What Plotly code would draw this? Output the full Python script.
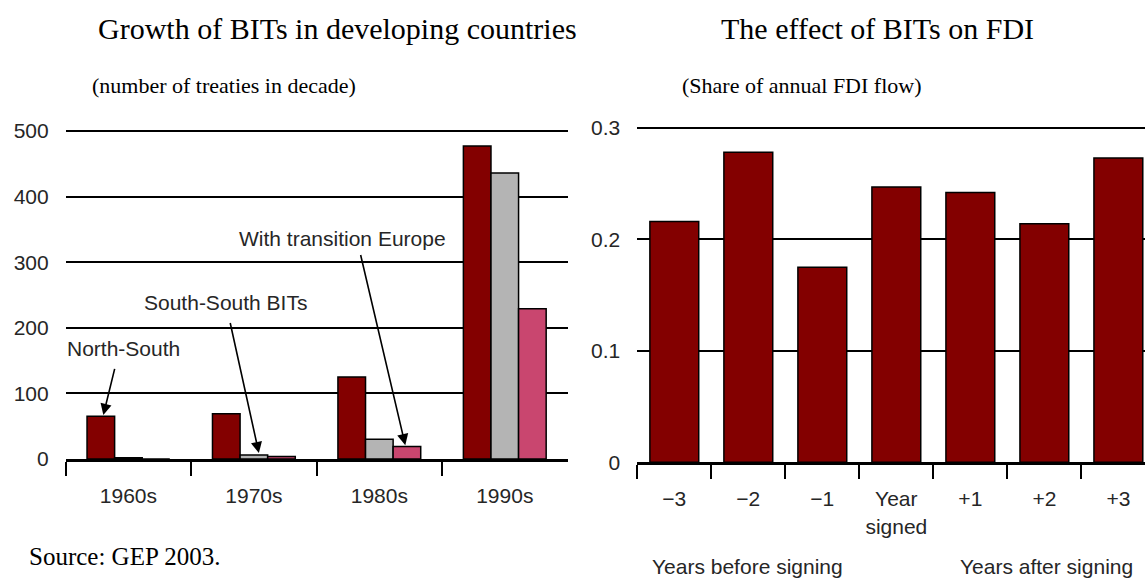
import plotly.graph_objects as go

# ---- Data: left panel (number of treaties in decade)
decades = ["1960s", "1970s", "1980s", "1990s"]
north_south = [65, 69, 125, 477]
south_south = [2, 6, 30, 436]
transition_europe = [0, 4, 19, 229]
left_yticks = [0, 100, 200, 300, 400, 500]

# ---- Data: right panel (share of annual FDI flow)
years = ["\u22123", "\u22122", "\u22121", "Year<br>signed", "+1", "+2", "+3"]
fdi_share = [0.216, 0.278, 0.175, 0.247, 0.242, 0.214, 0.273]
right_yticks = [0, 0.1, 0.2, 0.3]

W, H = 1145, 578
def px(x):
    return x / W
def py(y):
    return (H - y) / H

DARK_RED = "#830000"
GRAY = "#b4b4b4"
PINK = "#c9466f"
SANS = "Liberation Sans, Arial, sans-serif"
SERIF = "Liberation Serif, Times New Roman, serif"
TXT = "#262626"

fig = go.Figure()
bar_line = dict(color="black", width=1.5)
fig.add_trace(go.Bar(x=decades, y=north_south, marker=dict(color=DARK_RED, line=bar_line),
                     xaxis="x", yaxis="y", offsetgroup="a", name="North-South"))
fig.add_trace(go.Bar(x=decades, y=south_south, marker=dict(color=GRAY, line=bar_line),
                     xaxis="x", yaxis="y", offsetgroup="b", name="South-South"))
fig.add_trace(go.Bar(x=decades, y=transition_europe, marker=dict(color=PINK, line=bar_line),
                     xaxis="x", yaxis="y", offsetgroup="c", name="Transition Europe"))
fig.add_trace(go.Bar(x=years, y=fdi_share, marker=dict(color=DARK_RED, line=bar_line),
                     xaxis="x2", yaxis="y2", name="FDI share"))

tickfont = dict(family=SANS, size=21, color=TXT)
xcommon = dict(type="category", showline=True, linecolor="black", linewidth=2.5,
               ticks="outside", tickson="boundaries", ticklen=14, tickwidth=2, tickcolor="black",
               showgrid=False, zeroline=False, tickfont=tickfont, ticklabelstandoff=16,
               automargin=False)
ycommon = dict(showgrid=True, gridcolor="black", gridwidth=2,
               showline=False, zeroline=False, ticks="", tickfont=tickfont,
               ticklabelstandoff=16, automargin=False)

fig.update_layout(
    width=W, height=H, margin=dict(l=0, r=0, t=0, b=0, autoexpand=False),
    paper_bgcolor="white", plot_bgcolor="white",
    showlegend=False, barmode="group", bargap=0.34, bargroupgap=0,
    xaxis=dict(domain=[px(65.7), px(567.5)], range=[-0.5, 3.5], anchor="y", **xcommon),
    yaxis=dict(domain=[py(459), py(459 - 5.2 * 65.6)], range=[0, 520],
               tickvals=left_yticks, anchor="x", **ycommon),
    xaxis2=dict(domain=[px(637.3), 1.0], range=[-0.5, 6.36], anchor="y2", **xcommon),
    yaxis2=dict(domain=[py(462.3), py(462.3 - 3.1 * 111.5)], range=[0, 0.31],
                tickvals=right_yticks, ticktext=["0", "0.1", "0.2", "0.3"],
                anchor="x2", **ycommon),
)

ann = []
def text_ann(txt, x, y, size, family, xanchor="left", color="black"):
    ann.append(dict(text=txt, x=px(x), y=py(y), xref="paper", yref="paper",
                    xanchor=xanchor, yanchor="middle", showarrow=False,
                    font=dict(family=family, size=size, color=color)))

# Titles and notes
text_ann("Growth of BITs in developing countries", 337.5, 29, 30, SERIF, "center")
text_ann("(number of treaties in decade)", 90, 85, 22, SERIF)
text_ann("The effect of BITs on FDI", 877.5, 29, 30, SERIF, "center")
text_ann("(Share of annual FDI flow)", 680, 85, 22, SERIF)
text_ann("Source: GEP 2003.", 27, 556, 25, SERIF)
text_ann("Years before signing", 748, 566, 21, SANS, "center", TXT)
text_ann("Years after signing", 1046, 566, 21, SANS, "center", TXT)

# Series labels on left panel
text_ann("North-South", 65, 348, 21, SANS, "left", TXT)
text_ann("South-South BITs", 141.7, 302.7, 21, SANS, "left", TXT)
text_ann("With transition Europe", 237, 238, 21, SANS, "left", TXT)

# Arrows (tips in data coordinates, tails as pixel offsets)
arrow_style = dict(showarrow=True, arrowhead=2, arrowsize=1.4, arrowwidth=1.6,
                   arrowcolor="black", text="", xref="x", yref="y")
ann.append(dict(x=-0.2, y=north_south[0] + 2, ax=11.7, ay=-47.7, **arrow_style))
ann.append(dict(x=1.04, y=south_south[1] + 3, ax=-29, ay=-131.6, **arrow_style))
ann.append(dict(x=2.207, y=transition_europe[2] + 2, ax=-45, ay=-191.7, **arrow_style))

fig.update_layout(annotations=ann)
fig.write_html("out.html", config={"displayModeBar": False},
               post_script="document.body.style.margin='0px';")
